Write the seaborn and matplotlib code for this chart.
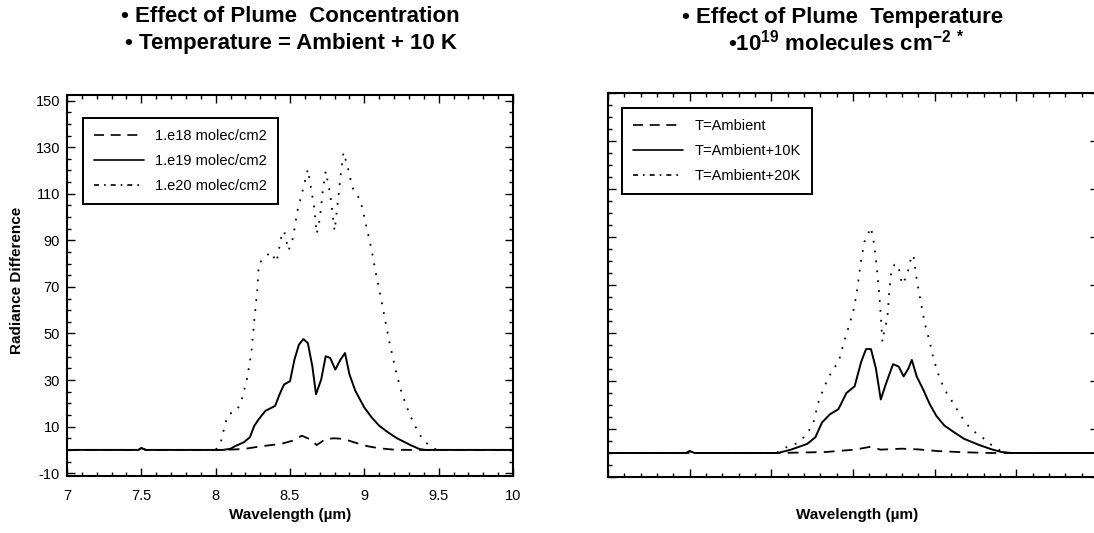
import numpy as np
import pandas as pd
import matplotlib
matplotlib.use('Agg')
import matplotlib.pyplot as plt
from matplotlib.lines import Line2D
import seaborn as sns

# Left panel: effect of plume concentration (T = ambient + 10 K)
wl_e18 = [7.0, 7.48, 7.5, 7.53, 8.05, 8.19, 8.31, 8.44, 8.52, 8.58, 8.63, 8.68,
          8.74, 8.80, 8.86, 8.93, 9.02, 9.10, 9.20, 9.30, 10.0]
rd_e18 = [0, 0, 0.8, 0, 0, 0.4, 1.6, 2.6, 4.0, 6.1, 4.7, 2.1,
          4.7, 5.0, 4.7, 3.3, 1.6, 0.7, 0.1, 0, 0]

wl_e19 = [7.0, 7.48, 7.5, 7.53, 8.05, 8.10, 8.13, 8.19, 8.23, 8.26, 8.29, 8.335,
          8.40, 8.43, 8.46, 8.50, 8.53, 8.56, 8.59, 8.62, 8.65, 8.675, 8.71, 8.74,
          8.77, 8.805, 8.84, 8.87, 8.90, 8.94, 9.00, 9.05, 9.10, 9.16, 9.22, 9.31,
          9.37, 9.41, 10.0]
rd_e19 = [0, 0, 0.8, 0, 0, 0.5, 1.6, 3.3, 5.4, 10.4, 13.2, 16.8,
          18.9, 23.9, 28.1, 29.5, 38.8, 45.2, 47.6, 45.9, 36.0, 23.9, 30.3, 40.2,
          39.5, 34.5, 38.8, 41.6, 32.4, 25.3, 18.2, 13.9, 10.4, 7.5, 5.0, 2.1,
          0.4, 0, 0]

wl_e20 = [7.0, 8.0, 8.035, 8.066, 8.087, 8.14, 8.17, 8.21, 8.24, 8.26,
          8.28, 8.29, 8.32, 8.37, 8.41, 8.44, 8.46, 8.49, 8.52, 8.55,
          8.58, 8.62, 8.645, 8.66, 8.68, 8.70, 8.72, 8.74, 8.77, 8.80,
          8.82, 8.84, 8.86, 8.89, 8.92, 8.975, 9.01, 9.05, 9.08, 9.11,
          9.14, 9.17, 9.21, 9.25, 9.30, 9.34, 9.39, 9.45, 9.49, 10.0]
rd_e20 = [0, 0, 3.3, 11.8, 15.3, 16.8, 20.3, 30.3, 41.6, 55.8,
          68.6, 80, 82, 85, 80.7, 91, 94, 85.6, 91, 102.7,
          110, 120.5, 111, 105.5, 92.8, 99, 111, 119.7, 110, 94,
          105.5, 117.6, 127.8, 121, 112.6, 107, 97, 85.7, 75, 65.8,
          55.8, 45.9, 34.5, 24.6, 16, 10.4, 4.7, 1.1, 0, 0]

# Right panel: effect of plume temperature (1e19 molecules/cm2)
wl_amb = [7.0, 7.48, 7.5, 7.53, 8.04, 8.33, 8.51, 8.60, 8.67, 8.80, 8.90, 9.02,
          9.18, 9.35, 10.0]
rd_amb = [0, 0, 0.8, 0, 0, 0.4, 1.4, 2.5, 1.4, 1.8, 1.5, 0.8,
          0.3, 0, 0]

wl_10k = [7.0, 7.48, 7.5, 7.53, 8.04, 8.12, 8.22, 8.27, 8.31, 8.36, 8.41, 8.46,
          8.51, 8.55, 8.58, 8.61, 8.64, 8.67, 8.70, 8.745, 8.78, 8.81, 8.84, 8.86,
          8.89, 8.93, 8.97, 9.01, 9.06, 9.12, 9.18, 9.27, 9.35, 9.41, 9.47, 10.0]
rd_10k = [0, 0, 0.8, 0, 0, 1.4, 3.8, 6.6, 12.7, 16.2, 18.2, 25,
          27.8, 38, 43.3, 43.3, 35.3, 22.3, 28.5, 37, 36, 31.9, 35.3, 38.8,
          31.9, 26.4, 20.3, 15.5, 11.4, 8.6, 5.9, 3.4, 1.5, 0.4, 0, 0]

wl_20k = [7.0, 8.0, 8.04, 8.10, 8.16, 8.21, 8.255, 8.29, 8.33, 8.38,
          8.41, 8.44, 8.47, 8.50, 8.52, 8.535, 8.55, 8.57, 8.61, 8.63,
          8.645, 8.66, 8.67, 8.68, 8.69, 8.71, 8.72, 8.735, 8.755, 8.776,
          8.80, 8.83, 8.85, 8.87, 8.89, 8.91, 8.94, 8.97, 8.99, 9.02,
          9.06, 9.10, 9.16, 9.22, 9.29, 9.35, 9.40, 9.45, 10.0]
rd_20k = [0, 0, 0.4, 2.7, 4.1, 7.3, 12, 21.6, 28.5, 35.3,
          37.4, 45, 51.8, 58.6, 65.5, 73, 80.5, 88, 94, 86.7,
          77.8, 66.8, 57.3, 46.3, 50.4, 55.9, 65.5, 76.4, 78.5, 78.5,
          70.3, 73.7, 79.9, 82.6, 72.3, 64.8, 53.8, 46.3, 40.1, 33.3,
          26.4, 22.3, 15.5, 10, 6.6, 3.2, 1.1, 0, 0]

left_labels = ['1.e18 molec/cm2', '1.e19 molec/cm2', '1.e20 molec/cm2']
right_labels = ['T=Ambient', 'T=Ambient+10K', 'T=Ambient+20K']
xtick_vals = [7, 7.5, 8, 8.5, 9, 9.5, 10]
xtick_labels = ['7', '7.5', '8', '8.5', '9', '9.5', '10']
ytick_vals = [-10, 10, 30, 50, 70, 90, 110, 130, 150]

sns.set_theme(style='ticks')
plt.rcParams['font.family'] = ['Liberation Sans', 'DejaVu Sans']
plt.rcParams['mathtext.fontset'] = 'custom'
plt.rcParams['mathtext.rm'] = 'Liberation Sans:bold'
plt.rcParams['mathtext.bf'] = 'Liberation Sans:bold'
for key in ['text.color', 'axes.labelcolor', 'xtick.color', 'ytick.color',
            'axes.edgecolor']:
    plt.rcParams[key] = 'black'

styles = [(0, (6, 4)), '-', (0, (1, 4.5))]
legend_styles = [(0, (6, 4)), '-', (0, (3, 3, 1, 3))]


def draw_panel(ax, series, labels, anchor):
    for (wl, rd), ls in zip(series, styles):
        df = pd.DataFrame({'wl': wl, 'rd': rd})
        sns.lineplot(data=df, x='wl', y='rd', ax=ax, color='black',
                     linestyle=ls, lw=1.3 if ls != '-' else 1.4,
                     estimator=None, sort=False)
    handles = [Line2D([], [], color='black', lw=1.2, linestyle=ls)
               for ls in legend_styles]
    leg = ax.legend(handles, labels, loc='upper left', bbox_to_anchor=anchor,
                    borderaxespad=0, frameon=True, fancybox=False,
                    framealpha=1, edgecolor='black', fontsize=10.5,
                    handlelength=3.4, handletextpad=0.8, labelspacing=0.75,
                    borderpad=0.75)
    leg.get_frame().set_linewidth(1.4)
    ax.set_xlim(7, 10)
    ax.set_xticks(xtick_vals)
    ax.set_xticks(np.arange(7, 10.01, 0.1), minor=True)
    ax.set_yticks(ytick_vals)
    ax.set_yticks(np.arange(-10, 151, 5), minor=True)
    ax.tick_params(which='both', direction='in', top=True, right=True,
                   color='black', width=1)
    ax.tick_params(which='major', length=6)
    ax.tick_params(which='minor', length=3)
    for s in ax.spines.values():
        s.set_linewidth(1.5)
        s.set_color('black')
    ax.set_xlabel('')
    ax.set_ylabel('')


fig = plt.figure(figsize=(10.94, 5.33), dpi=100)
ax1 = fig.add_axes([67 / 1094, 1 - 476 / 533, 446 / 1094, 381 / 533])
ax2 = fig.add_axes([608 / 1094, 1 - 477 / 533, 490 / 1094, 384 / 533])

draw_panel(ax1, [(wl_e18, rd_e18), (wl_e19, rd_e19), (wl_e20, rd_e20)],
           left_labels, (0.036, 0.94))
draw_panel(ax2, [(wl_amb, rd_amb), (wl_10k, rd_10k), (wl_20k, rd_20k)],
           right_labels, (0.029, 0.961))

ax1.set_ylim(-11.2, 152.4)
ax1.set_xticklabels(xtick_labels)
ax1.set_yticklabels([str(v) for v in ytick_vals])
ax1.tick_params(labelsize=10.5, pad=9)
ax1.tick_params(axis='y', pad=5)

ax2.set_ylim(-10, 150)
ax2.tick_params(labelbottom=False, labelleft=False)

# titles and axis labels
title_kw = dict(ha='center', va='center', fontsize=16, fontweight='bold')
fig.text(290.5 / 1094, 1 - 17 / 533, '\u2022 Effect of Plume  Concentration', **title_kw)
fig.text(291 / 1094, 1 - 43 / 533, '\u2022 Temperature = Ambient + 10 K', **title_kw)
fig.text(843 / 1094, 1 - 17 / 533, '\u2022 Effect of Plume  Temperature', **title_kw)
fig.text(846 / 1094, 1 - 43 / 533,
         '\u2022$10^{19}$ molecules cm$^{-2}$ $^{*}$', **title_kw)

lab_kw = dict(ha='center', va='center', fontsize=11, fontweight='bold')
fig.text(17 / 1094, 1 - 280 / 533, 'Radiance Difference', rotation=90, **lab_kw)
fig.text(290 / 1094, 1 - 515 / 533, 'Wavelength (\u00b5m)', **lab_kw)
fig.text(857 / 1094, 1 - 515 / 533, 'Wavelength (\u00b5m)', **lab_kw)

fig.savefig('out.png', dpi=100, facecolor='white')
